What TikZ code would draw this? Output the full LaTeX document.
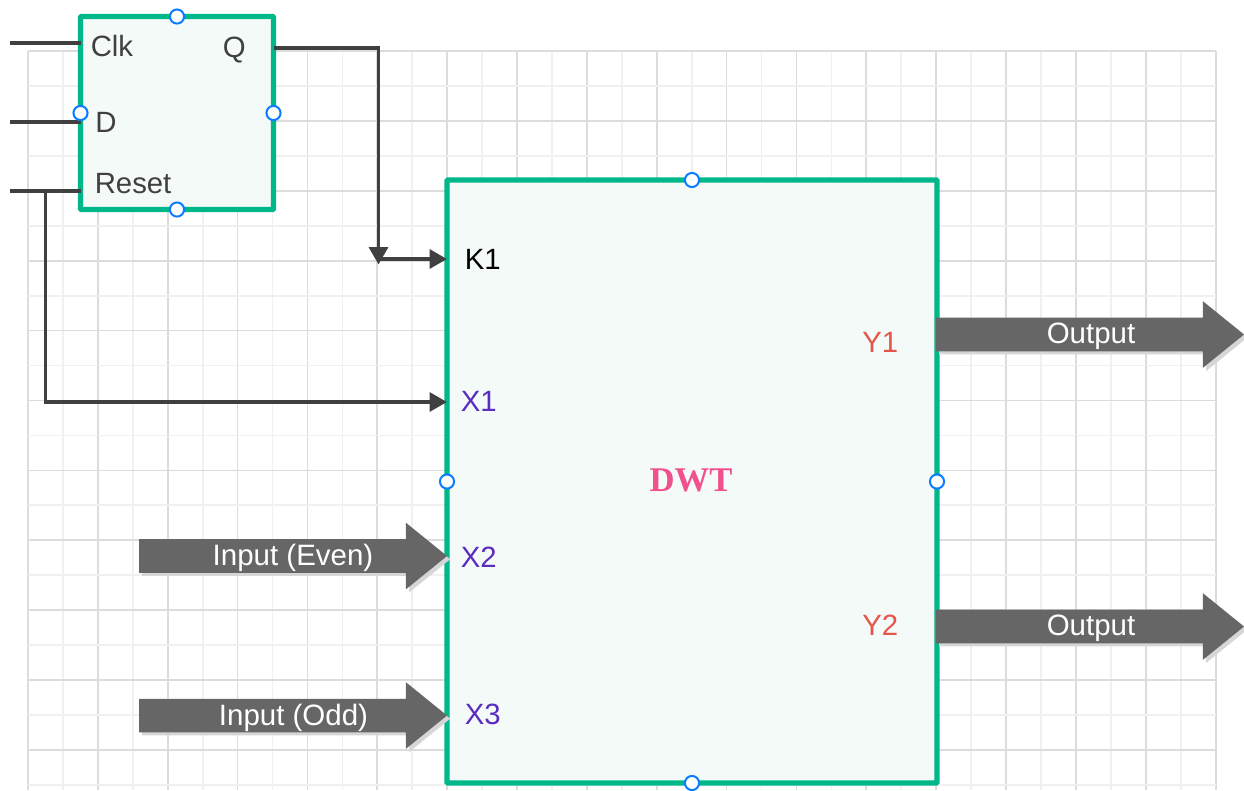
\documentclass[tikz,border=0pt]{standalone}
\usepackage{fontspec}
\setmainfont{Liberation Sans}
\newfontfamily\dwtfont{Liberation Serif}
\usetikzlibrary{arrows.meta,shapes.arrows,shadows}
\definecolor{gridmin}{HTML}{F0F0F0}
\definecolor{gridmaj}{HTML}{DCDCDC}
\definecolor{boxgreen}{HTML}{00B78A}
\definecolor{boxfill}{HTML}{F4FAF8}
\definecolor{wire}{HTML}{404040}
\definecolor{blockgray}{HTML}{666666}
\definecolor{handleblue}{HTML}{0A7CFF}
\definecolor{lbl}{HTML}{404040}
\definecolor{xpurple}{HTML}{5B2CC0}
\definecolor{yred}{HTML}{E5564A}
\definecolor{dwtpink}{HTML}{F0508C}
\newcommand{\bodystrut}{\rule{0pt}{24.75pt}}
\tikzset{
  x=.75pt,y=-.75pt,
  greenbox/.style={draw=boxgreen,fill=boxfill,line width=3.9pt,rounded corners=.6pt,inner sep=0,outer sep=0,rectangle},
  handlept/.style={circle,draw=handleblue,fill=white,line width=1.5pt,minimum size=10.6pt,inner sep=0},
  wireline/.style={draw=wire,line width=2.9pt},
  wirearrow/.style={wireline,-{Triangle[length=13pt,width=14pt]}},
  blockarrow/.style={shape=single arrow,fill=blockgray,inner sep=0,outer sep=0,anchor=tail,
    single arrow head extend=12.4pt,single arrow tip angle=78,single arrow head indent=0pt,
    minimum width=49.5pt,minimum height=231pt,
    general shadow={shadow xshift=2.4pt,shadow yshift=-2.4pt,fill=black!16}},
  blocktext/.style={anchor=base,inner sep=0,text=white,font=\fontsize{22.1}{24}\selectfont},
  pinlabel/.style={anchor=base west,inner sep=0,font=\fontsize{22}{24}\selectfont},
}
\begin{document}
\begin{tikzpicture}
\useasboundingbox[fill=white] (0,0) rectangle (1244,790);
% grid
\foreach \k in {0,...,34}{
  \pgfmathsetmacro{\xx}{28+34.93*\k}
  \pgfmathtruncatemacro{\mm}{mod(\k,2)}
  \ifnum\mm=0 \draw[gridmaj,line width=1.3pt] (\xx,51) -- (\xx,790);
  \else \draw[gridmin,line width=1.3pt] (\xx,51) -- (\xx,790); \fi
}
\foreach \k in {0,...,21}{
  \pgfmathsetmacro{\yy}{51+34.95*\k}
  \pgfmathtruncatemacro{\mm}{mod(\k,2)}
  \ifnum\mm=0 \draw[gridmaj,line width=1.3pt] (28,\yy) -- (1216,\yy);
  \else \draw[gridmin,line width=1.3pt] (28,\yy) -- (1216,\yy); \fi
}
% boxes
\node[greenbox,minimum width=144.75pt,minimum height=144.75pt] (ff) at (177,113) {};
\node[greenbox,minimum width=367.5pt,minimum height=452.25pt] (dwt) at (692,481.5) {};
% free ends of the wires
\coordinate (clkS) at (10,42.8);
\coordinate (dS) at (10,122.3);
\coordinate (rstS) at (10,190.8);
\coordinate (rstJ) at (45.5,190.8);
\coordinate (rstT) at (45.5,402);
\coordinate (qB) at (378.5,48);
\coordinate (qE) at (378.5,264.5);
\coordinate (kJ) at (378.5,259);
% wires
\draw[wireline] (clkS) -- (clkS -| ff.west);
\draw[wireline] (dS) -- (dS -| ff.west);
\draw[wireline] (rstS) -- (rstS -| ff.west);
\draw[wirearrow] (rstJ) -- (rstT) -- (rstT -| dwt.west);
\draw[wirearrow] (qB -| ff.east) -- (qB) -- (qE);
\draw[wirearrow] (kJ) -- (kJ -| dwt.west);
% block arrows
\node[blockarrow] (ae) at (139,556) {\bodystrut};
\node[blockarrow] (ao) at (139,715.5) {\bodystrut};
\node[blockarrow] (o1) at (936,334.5) {\bodystrut};
\node[blockarrow] (o2) at (936,626.5) {\bodystrut};
\node[blocktext] (tae) at (293,565) {Input (Even)};
\node[blocktext] (tao) at (293.5,725) {Input (Odd)};
\node[blocktext] (to1) at (1091,343) {Output};
\node[blocktext] (to2) at (1091,635) {Output};
% labels
\node[pinlabel,text=lbl] (tclk) at (90.5,56.5) {Clk};
\node[pinlabel,text=lbl] (tq) at (222.5,57.5) {Q};
\node[pinlabel,text=lbl] (td) at (95,132) {D};
\node[pinlabel,text=lbl] (trst) at (94.5,193) {Reset};
\node[pinlabel,text=black] (tk1) at (464.5,269) {K1};
\node[pinlabel,text=xpurple] (tx1) at (460.5,411) {X1};
\node[pinlabel,text=xpurple] (tx2) at (460.5,567.5) {X2};
\node[pinlabel,text=xpurple] (tx3) at (464.5,724) {X3};
\node[pinlabel,text=yred] (ty1) at (862,352) {Y1};
\node[pinlabel,text=yred] (ty2) at (862,635) {Y2};
\node[anchor=base,inner sep=0,text=dwtpink,font=\fontsize{26}{30}\bfseries\dwtfont] (tdwt) at (691,491) {DWT};
% selection handles
\foreach \n/\a in {h1/ff.north,h2/ff.west,h3/ff.east,h4/ff.south,h5/dwt.north,h6/dwt.west,h7/dwt.east,h8/dwt.south}
  \node[handlept] (\n) at (\a) {};
\end{tikzpicture}
\end{document}
